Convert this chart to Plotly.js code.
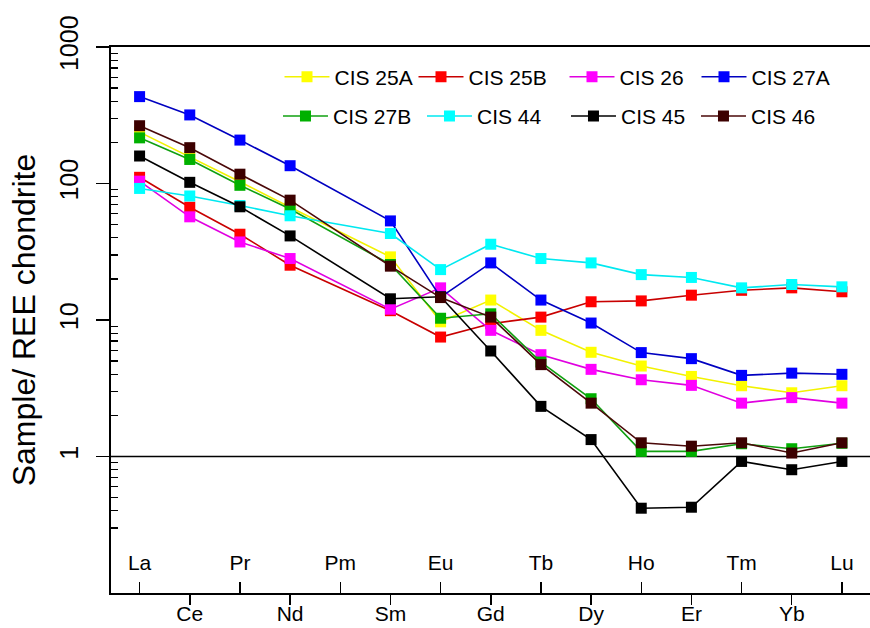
<!DOCTYPE html>
<html>
<head>
<meta charset="utf-8">
<script src="https://cdn.plot.ly/plotly-3.0.1.min.js"></script>
<style>html,body{margin:0;padding:0;background:#fff;}#chart{width:870px;height:628px;}</style>
</head>
<body>
<div id="chart"></div>
<script>
// REE elements (chondrite-normalised pattern); Pm has no data
const elements = ['La','Ce','Pr','Nd','Pm','Sm','Eu','Gd','Tb','Dy','Ho','Er','Tm','Yb','Lu'];
const upperLabels = ['La','Pr','Pm','Eu','Tb','Ho','Tm','Lu'];
const lowerLabels = ['Ce','Nd','Sm','Gd','Dy','Er','Yb'];

const seriesNames = ['CIS 25A','CIS 25B','CIS 26','CIS 27A','CIS 27B','CIS 44','CIS 45','CIS 46'];

const cis25A = [238, 157, 103, 67, null, 29, 9.7, 14.0, 8.4, 5.8, 4.6, 3.86, 3.3, 2.93, 3.3];
const cis25B = [111, 67, 42.5, 25.2, null, 11.7, 7.5, 9.4, 10.5, 13.6, 13.8, 15.2, 16.5, 17.2, 16.1];
const cis26  = [104, 57, 37.3, 28.2, null, 12.0, 17.2, 8.4, 5.57, 4.35, 3.65, 3.32, 2.46, 2.70, 2.46];
const cis27A = [433, 318, 208, 135, null, 53.2, 14.7, 26.2, 14.0, 9.5, 5.77, 5.21, 3.93, 4.08, 4.0];
const cis27B = [216, 150, 97, 65, null, 25.5, 10.3, 11.1, 4.92, 2.65, 1.09, 1.09, 1.24, 1.14, 1.25];
const cis44  = [92, 81, 69, 58, null, 43, 23.4, 35.9, 28.2, 26.2, 21.5, 20.5, 17.2, 18.2, 17.5];
const cis45  = [159, 102, 67.5, 41.3, null, 14.3, 14.8, 5.93, 2.33, 1.33, 0.418, 0.425, 0.92, 0.80, 0.92];
const cis46  = [265, 183, 117, 75.5, null, 24.8, 14.6, 10.5, 4.71, 2.46, 1.26, 1.19, 1.26, 1.06, 1.26];

const seriesValues = [cis25A, cis25B, cis26, cis27A, cis27B, cis44, cis45, cis46];
const markerColors = ['#ffff00','#ff0000','#ff00ff','#0000ff','#00b000','#00ffff','#000000','#3c0000'];
const lineColors   = ['#f2f200','#c80000','#e000e0','#0000c0','#10a010','#00e8f0','#000000','#4a0808'];
const legendIds    = ['legend','legend','legend','legend','legend2','legend2','legend2','legend2'];
const legendWidths = [74, 91, 72, 80, 84, 84, 70, 80];

const FONT = 'Liberation Sans, Arial, sans-serif';
const xIdx = elements.map((_, i) => i);

const traces = seriesValues.map((vals, k) => ({
  type: 'scatter',
  mode: 'lines+markers',
  name: seriesNames[k],
  x: xIdx,
  y: vals,
  connectgaps: true,
  legend: legendIds[k],
  legendwidth: legendWidths[k],
  line: {color: lineColors[k], width: 1.6},
  marker: {symbol: 'square', size: 11, color: markerColors[k], line: {width: 0}},
  hoverinfo: 'skip'
}));

// dummy trace so the overlay axis (upper tick labels) is drawn
traces.push({type: 'scatter', x: [], y: [], xaxis: 'x2', yaxis: 'y', showlegend: false, hoverinfo: 'skip'});

const minorVals = [];
for (let e = -1; e < 3; e++) {
  for (let d = 2; d <= 9; d++) minorVals.push(d * Math.pow(10, e));
}

const xRange = [-0.57, 14.56];

const layout = {
  width: 870,
  height: 628,
  margin: {l: 111, r: 0, t: 47, b: 35, pad: 0},
  paper_bgcolor: '#ffffff',
  plot_bgcolor: '#ffffff',
  font: {family: FONT, color: '#000000'},
  xaxis: {
    type: 'linear',
    range: xRange,
    tickmode: 'array',
    tickvals: lowerLabels.map(l => elements.indexOf(l)),
    ticktext: lowerLabels,
    ticks: 'outside',
    ticklen: 10,
    tickwidth: 1.5,
    tickcolor: '#000',
    ticklabelstandoff: -9,
    tickfont: {size: 21, family: FONT, color: '#000'},
    showgrid: false,
    zeroline: false,
    showline: true,
    linecolor: '#000',
    linewidth: 2,
    mirror: true
  },
  xaxis2: {
    type: 'linear',
    overlaying: 'x',
    anchor: 'y',
    side: 'bottom',
    range: xRange,
    tickmode: 'array',
    tickvals: upperLabels.map(l => elements.indexOf(l)),
    ticktext: upperLabels,
    ticks: 'inside',
    ticklen: 11,
    tickwidth: 1.5,
    tickcolor: '#000',
    ticklabelposition: 'inside',
    ticklabelstandoff: 9,
    tickfont: {size: 21, family: FONT, color: '#000'},
    showgrid: false,
    zeroline: false,
    showline: false
  },
  yaxis: {
    type: 'log',
    range: [-1, 3],
    dtick: 1,
    exponentformat: 'none',
    ticks: 'outside',
    ticklen: 13,
    tickwidth: 1.5,
    tickcolor: '#000',
    tickangle: -90,
    ticklabelstandoff: 8,
    tickfont: {size: 25, family: FONT, color: '#000'},
    minor: {tickmode: 'array', tickvals: minorVals, ticks: 'inside', ticklen: 7, tickwidth: 1.3, tickcolor: '#000', showgrid: false},
    showgrid: false,
    zeroline: false,
    showline: true,
    linecolor: '#000',
    linewidth: 2,
    title: {text: 'Sample/ REE chondrite', font: {size: 32, family: FONT, color: '#000'}, standoff: 10}
  },
  shapes: [{
    type: 'line', xref: 'paper', x0: 0, x1: 1, yref: 'y', y0: 1, y1: 1,
    line: {color: '#000', width: 1.5}, layer: 'below'
  }],
  legend: {
    orientation: 'h', x: 0.222, xanchor: 'left', y: 0.945, yanchor: 'middle',
    bgcolor: 'rgba(0,0,0,0)', borderwidth: 0, itemwidth: 45,
    font: {size: 21, family: FONT, color: '#000'}, tracegroupgap: 0
  },
  legend2: {
    orientation: 'h', x: 0.22, xanchor: 'left', y: 0.873, yanchor: 'middle',
    bgcolor: 'rgba(0,0,0,0)', borderwidth: 0, itemwidth: 45,
    font: {size: 21, family: FONT, color: '#000'}, tracegroupgap: 0
  },
  showlegend: true
};

Plotly.newPlot('chart', traces, layout, {staticPlot: true, displayModeBar: false});
</script>
</body>
</html>
